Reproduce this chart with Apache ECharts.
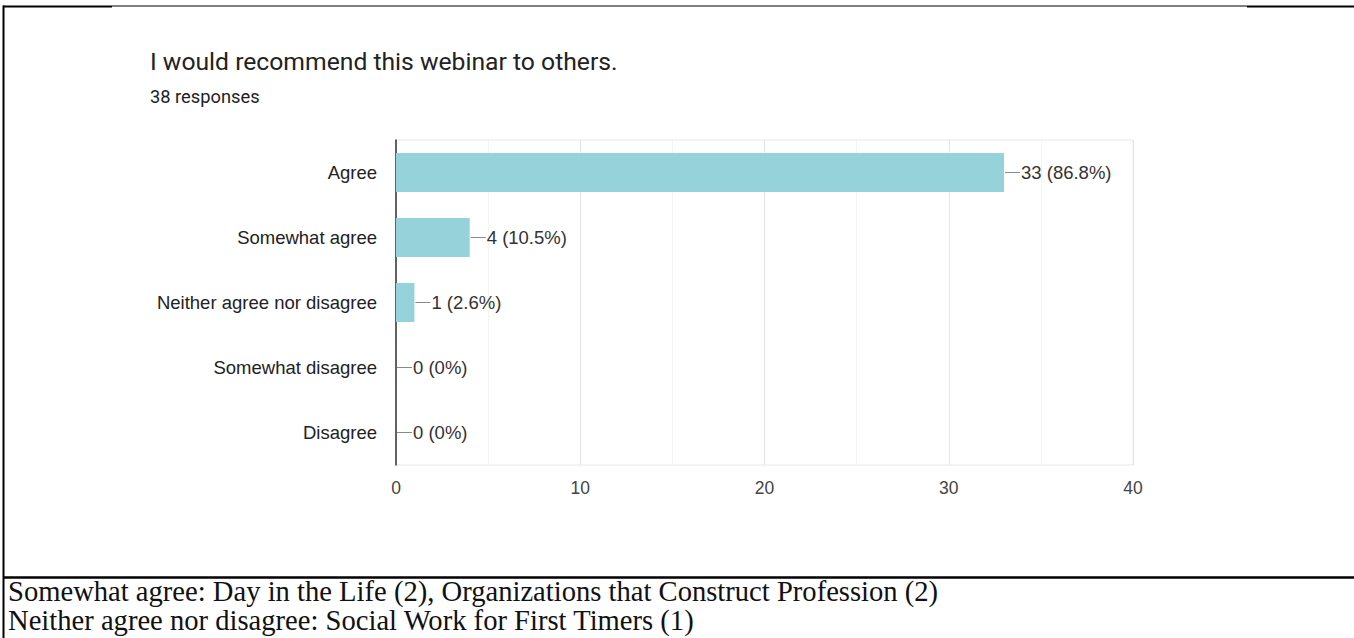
<!DOCTYPE html>
<html>
<head>
<meta charset="utf-8">
<title>I would recommend this webinar to others.</title>
<script src="https://cdn.jsdelivr.net/npm/echarts@6/dist/echarts.min.js"></script>
<style>
  html, body { margin: 0; padding: 0; background: #fff; }
  #chart { width: 1354px; height: 638px; }
</style>
</head>
<body>
<div id="chart"></div>
<script>
// Survey answers and response counts
const categories = ['Agree', 'Somewhat agree', 'Neither agree nor disagree', 'Somewhat disagree', 'Disagree'];
const counts = [33, 4, 1, 0, 0];
const axisTicks = [0, 10, 20, 30, 40];

const title = 'I would recommend this webinar to others.';
const subtitle = '38 responses';
const notes = [
  'Somewhat agree: Day in the Life (2), Organizations that Construct Profession (2)',
  'Neither agree nor disagree: Social Work for First Timers (1)'
];

const total = counts.reduce((a, b) => a + b, 0);

const chart = echarts.init(document.getElementById('chart'), null, { renderer: 'svg' });

const sansFont = '"Liberation Sans", Arial, sans-serif';
const serifFont = '"Liberation Serif", "DejaVu Serif", serif';

chart.setOption({
  backgroundColor: '#ffffff',
  animation: false,
  grid: {
    left: 396, right: 221, top: 140, bottom: 173,
    show: true, borderColor: '#e8e8e8', borderWidth: 1
  },
  xAxis: {
    type: 'value',
    min: axisTicks[0],
    max: axisTicks[axisTicks.length - 1],
    interval: 10,
    axisLine: { show: false },
    axisTick: { show: false },
    axisLabel: { color: '#444', fontSize: 17.5, margin: 14, fontFamily: sansFont },
    splitLine: { show: true, lineStyle: { color: '#e6e6e6', width: 1 } },
    minorTick: { show: false, splitNumber: 2 },
    minorSplitLine: { show: true, lineStyle: { color: '#f3f3f3', width: 1 } }
  },
  yAxis: {
    type: 'category',
    inverse: true,
    data: categories,
    axisLine: { show: true, lineStyle: { color: '#333', width: 1.5 } },
    axisTick: { show: false },
    axisLabel: { color: '#222', fontSize: 18.5, margin: 19, fontFamily: sansFont },
    splitLine: { show: false }
  },
  series: [{
    type: 'bar',
    data: counts,
    barCategoryGap: '40%',
    itemStyle: { color: '#96d2d9' },
    z: 3,
    label: {
      show: true,
      position: 'right',
      distance: 1,
      formatter: p => {
        const pct = total ? parseFloat((p.value / total * 100).toFixed(1)) : 0;
        return '{l|}{t|' + p.value + ' (' + pct + '%)}';
      },
      rich: {
        l: { width: 15, height: 1, backgroundColor: '#8a8a8a' },
        t: { fontSize: 18.5, color: '#333', padding: [0, 0, 0, 1], fontFamily: sansFont }
      }
    }
  }],
  graphic: [
    // chart heading
    {
      type: 'text', left: 150, top: 49,
      style: { text: title, fontSize: 24.7, fill: '#222', fontFamily: 'Roboto, sans-serif' }
    },
    {
      type: 'text', left: 150, top: 87,
      style: { text: subtitle, fontSize: 18.3, fill: '#222', fontFamily: 'Roboto, sans-serif' }
    },
    // table rules around the chart cell
    { type: 'line', shape: { x1: 3, y1: 6.5, x2: 112, y2: 6.5 }, style: { stroke: '#000', lineWidth: 2 } },
    { type: 'line', shape: { x1: 112, y1: 6, x2: 1247, y2: 6 }, style: { stroke: '#000', lineWidth: 1 } },
    { type: 'line', shape: { x1: 1247, y1: 6.5, x2: 1354, y2: 6.5 }, style: { stroke: '#000', lineWidth: 2 } },
    { type: 'line', shape: { x1: 3.5, y1: 5.5, x2: 3.5, y2: 638 }, style: { stroke: '#000', lineWidth: 2 } },
    { type: 'line', shape: { x1: 3, y1: 577.5, x2: 1354, y2: 577.5 }, style: { stroke: '#000', lineWidth: 2.5 } },
    // notes under the chart
    {
      type: 'text', left: 8, top: 577,
      style: { text: notes[0], fontSize: 28.6, fill: '#111', fontFamily: serifFont }
    },
    {
      type: 'text', left: 8, top: 606,
      style: { text: notes[1], fontSize: 28.6, fill: '#111', fontFamily: serifFont }
    }
  ]
});
</script>
</body>
</html>
